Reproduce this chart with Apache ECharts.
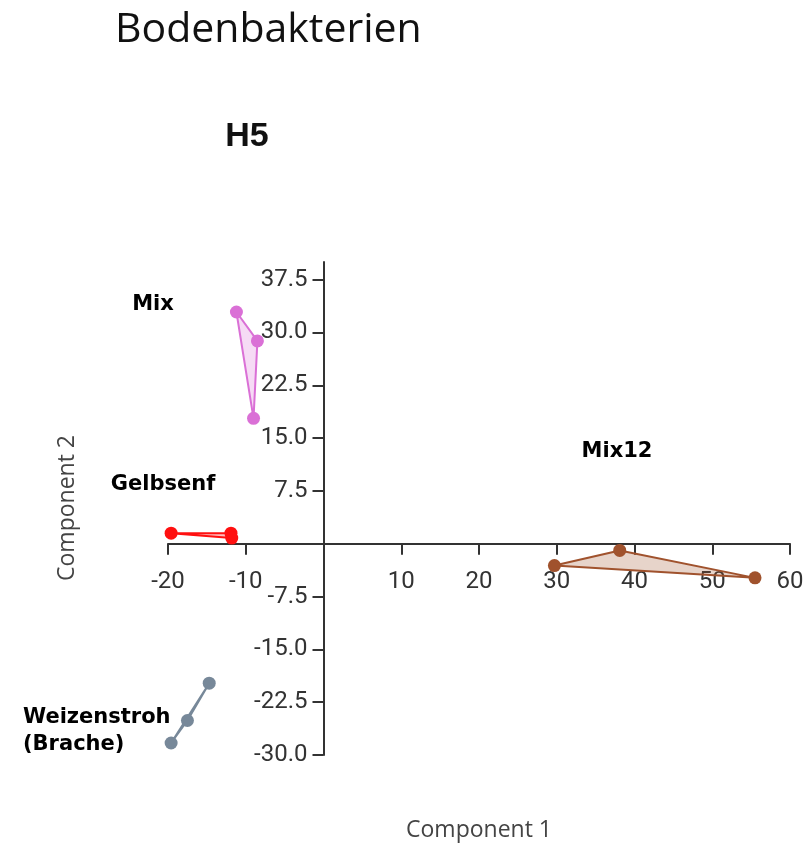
<!DOCTYPE html>
<html>
<head>
<meta charset="utf-8">
<script src="https://cdn.jsdelivr.net/npm/echarts@6/dist/echarts.min.js"></script>
<style>
  html, body { margin: 0; padding: 0; background: #fff; }
  #chart { width: 807px; height: 846px; }
</style>
</head>
<body>
<div id="chart"></div>
<script>
// groups (PCA scores)
var mixX = [-11.2, -8.5, -9.0];
var mixY = [32.9, 28.8, 17.8];
var gelbX = [-19.6, -11.9, -11.8];
var gelbY = [1.5, 1.5, 0.8];
var mix12X = [29.7, 38.1, 55.5];
var mix12Y = [-3.1, -0.95, -4.85];
var weizX = [-14.7, -17.5, -19.6];
var weizY = [-19.8, -25.1, -28.3];

// tick labels
var xTicks = [-20, -10, 10, 20, 30, 40, 50, 60];
var yTicks = [-30, -22.5, -15, -7.5, 7.5, 15, 22.5, 30, 37.5];

var xMin = -20, xMax = 60, yMin = -30, yMax = 40;
var W = 807, H = 846;
var gLeft = 168, gRight = 17, gTop = 262, gBottom = 91;

function pts(xs, ys) {
    var out = [];
    for (var i = 0; i < xs.length; i++) out.push([xs[i], ys[i]]);
    return out;
}

// hull polygon + dots for one group
function group(name, xs, ys, color, fill) {
    var data = pts(xs, ys);
    var hull = {
        name: name + ' hull',
        type: 'custom',
        data: [data[0]],
        silent: true,
        z: 2,
        renderItem: function (params, api) {
            var p = data.map(function (d) { return api.coord(d); });
            return {
                type: 'polygon',
                shape: { points: p },
                style: { fill: fill, stroke: color, lineWidth: 2, lineJoin: 'round' }
            };
        }
    };
    var dots = {
        name: name,
        type: 'scatter',
        data: data,
        symbolSize: 13,
        itemStyle: { color: color, opacity: 1 },
        z: 3
    };
    return [hull, dots];
}

// axes cross at the origin: shift each axis from the grid edge to zero
var gridW = W - gLeft - gRight, gridH = H - gTop - gBottom;
var xAxisShift = -gridH * (0 - yMin) / (yMax - yMin);
var yAxisShift = -gridW * (0 - xMin) / (xMax - xMin);

var tickFont = 'Roboto';
var noteFont = 'bold 21px "DejaVu Sans"';

var series = [].concat(
    group('Mix', mixX, mixY, '#DA70D6', 'rgba(218,112,214,0.25)'),
    group('Gelbsenf', gelbX, gelbY, '#FF1010', 'rgba(255,0,0,0.25)'),
    group('Mix12', mix12X, mix12Y, '#A0522D', 'rgba(160,82,45,0.25)'),
    group('Weizenstroh', weizX, weizY, '#778899', 'rgba(119,136,153,0.25)')
);

var chart = echarts.init(document.getElementById('chart'));
var option = {
    backgroundColor: '#fff',
    animation: false,
    grid: { left: gLeft, right: gRight, top: gTop, bottom: gBottom, containLabel: false },
    xAxis: {
        type: 'value',
        position: 'bottom',
        offset: xAxisShift,
        min: xMin,
        max: xMax,
        interval: 10,
        splitLine: { show: false },
        axisLine: { onZero: false, lineStyle: { color: '#333', width: 2 } },
        axisTick: { show: true, length: 11, customValues: xTicks, lineStyle: { color: '#333', width: 2 } },
        axisLabel: {
            customValues: xTicks,
            margin: 26,
            color: '#333',
            fontFamily: tickFont,
            fontSize: 24
        }
    },
    yAxis: {
        type: 'value',
        position: 'left',
        offset: yAxisShift,
        min: yMin,
        max: yMax,
        interval: 7.5,
        splitLine: { show: false },
        axisLine: { onZero: false, lineStyle: { color: '#333', width: 2 } },
        axisTick: { show: true, length: 11, customValues: yTicks, lineStyle: { color: '#333', width: 2 } },
        axisLabel: {
            customValues: yTicks,
            margin: 16,
            color: '#333',
            fontFamily: tickFont,
            fontSize: 24,
            formatter: function (v) { return v.toFixed(1); }
        }
    },
    graphic: [
        { type: 'text', left: 115, top: 10, style: { text: 'Bodenbakterien', font: '41px "Open Sans"', fill: '#111' } },
        { type: 'text', x: 247, y: 137, style: { text: 'H5', font: 'bold 34px "Liberation Sans"', fill: '#111', align: 'center', verticalAlign: 'middle' } },
        { type: 'text', x: 153, y: 305, style: { text: 'Mix', font: noteFont, fill: '#000', align: 'center', verticalAlign: 'middle' } },
        { type: 'text', x: 163, y: 485, style: { text: 'Gelbsenf', font: noteFont, fill: '#000', align: 'center', verticalAlign: 'middle' } },
        { type: 'text', x: 617, y: 452, style: { text: 'Mix12', font: noteFont, fill: '#000', align: 'center', verticalAlign: 'middle' } },
        { type: 'text', x: 23, y: 718, style: { text: 'Weizenstroh', font: noteFont, fill: '#000', align: 'left', verticalAlign: 'middle' } },
        { type: 'text', x: 23, y: 745, style: { text: '(Brache)', font: noteFont, fill: '#000', align: 'left', verticalAlign: 'middle' } },
        { type: 'text', x: 479, y: 830, style: { text: 'Component 1', font: '23px "Open Sans"', fill: '#444', align: 'center', verticalAlign: 'middle' } },
        { type: 'text', x: 67, y: 508, rotation: Math.PI / 2, style: { text: 'Component 2', font: '23px "Open Sans"', fill: '#444', align: 'center', verticalAlign: 'middle' } }
    ],
    series: series
};
chart.setOption(option);
</script>
</body>
</html>
